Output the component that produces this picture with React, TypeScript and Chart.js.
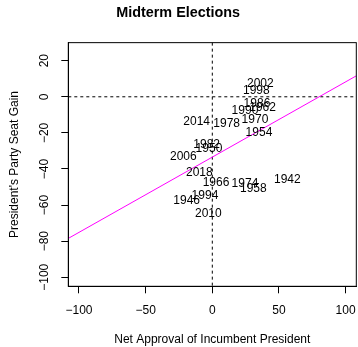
import { useEffect, useRef } from 'react';
import { Chart, registerables } from 'chart.js';

Chart.register(...registerables);

// Midterm election years with the president's net approval and the seat change of his party
const years = [
  '1942', '1946', '1950', '1954', '1958', '1962', '1966', '1970', '1974', '1978',
  '1982', '1986', '1990', '1994', '1998', '2002', '2006', '2010', '2014', '2018',
];
const netApproval = [
  56.3, -19.2, -2.5, 35, 30.8, 37.7, 2.8, 32, 24.5, 10.8,
  -4.2, 33.5, 24.5, -5.5, 33, 36, -21.7, -3, -11.7, -9.7,
];
const seatGain = [
  -45, -56.5, -28, -19, -50, -5, -47, -12, -47.5, -14,
  -25.5, -3, -7, -54, 4, 8, -32.5, -64, -13, -41,
];

const xTicks = [-100, -50, 0, 50, 100];
const yTicks = [-100, -80, -60, -40, -20, 0, 20];

// axis limits (data limits padded by 4%)
const X_MIN = -108;
const X_MAX = 108;
const Y_MIN = -105;
const Y_MAX = 30;

const FONT = 'Liberation Sans';
// text is centred a little below its anchor, as base R graphics does
const TEXT_DROP = 1.5;

function leastSquares(xs: number[], ys: number[]) {
  const n = xs.length;
  const mx = xs.reduce((a, b) => a + b, 0) / n;
  const my = ys.reduce((a, b) => a + b, 0) / n;
  let sxy = 0;
  let sxx = 0;
  for (let i = 0; i < n; i++) {
    sxy += (xs[i] - mx) * (ys[i] - my);
    sxx += (xs[i] - mx) * (xs[i] - mx);
  }
  const slope = sxy / sxx;
  return { slope, intercept: my - slope * mx };
}

const minusSign = (v: number | string) => String(v).replace('-', '\u2212');

// dashed reference lines at zero and the box around the plot region
const framePlugin = {
  id: 'frame',
  beforeDatasetsDraw(chart: any) {
    const { ctx, chartArea: a, scales } = chart;
    const y0 = scales.y.getPixelForValue(0);
    const x0 = scales.x.getPixelForValue(0);
    ctx.save();
    ctx.strokeStyle = '#000';
    ctx.lineWidth = 1;
    ctx.setLineDash([3, 3]);
    ctx.beginPath();
    ctx.moveTo(a.left, y0);
    ctx.lineTo(a.right, y0);
    ctx.moveTo(x0, a.top);
    ctx.lineTo(x0, a.bottom);
    ctx.stroke();
    ctx.restore();
  },
  afterDraw(chart: any) {
    const { ctx, chartArea: a } = chart;
    ctx.save();
    ctx.strokeStyle = '#000';
    ctx.lineWidth = 1;
    ctx.strokeRect(a.left, a.top, a.right - a.left, a.bottom - a.top);
    ctx.restore();
  },
};

// year labels written at each point's position
const yearLabels = {
  id: 'yearLabels',
  afterDatasetsDraw(chart: any) {
    const { ctx } = chart;
    const meta = chart.getDatasetMeta(0);
    ctx.save();
    ctx.fillStyle = '#000';
    ctx.font = `12px "${FONT}"`;
    ctx.textAlign = 'center';
    ctx.textBaseline = 'middle';
    meta.data.forEach((pt: any, i: number) => {
      ctx.fillText(years[i], pt.x, pt.y + TEXT_DROP);
    });
    ctx.restore();
  },
};

export default function App() {
  const canvasRef = useRef<HTMLCanvasElement | null>(null);

  useEffect(() => {
    const canvas = canvasRef.current;
    if (!canvas) return;
    const fit = leastSquares(netApproval, seatGain);
    const points = netApproval.map((x, i) => ({ x, y: seatGain[i] }));
    const fitLine = [X_MIN, X_MAX].map((x) => ({ x, y: fit.intercept + fit.slope * x }));

    const chart = new Chart(canvas, {
      type: 'scatter',
      data: {
        datasets: [
          {
            label: 'Midterms',
            data: points,
            pointRadius: 0,
            pointHoverRadius: 0,
            showLine: false,
          },
          {
            label: 'Fit',
            data: fitLine,
            showLine: true,
            pointRadius: 0,
            borderColor: '#FF00FF',
            borderWidth: 1,
            fill: false,
          },
        ],
      },
      options: {
        responsive: false,
        animation: false,
        devicePixelRatio: 1,
        events: [],
        layout: { padding: { left: 0, right: 1.7, top: 0, bottom: 0 } },
        plugins: {
          legend: { display: false },
          tooltip: { enabled: false },
          title: {
            display: true,
            text: 'Midterm Elections',
            color: '#000',
            font: { family: FONT, size: 14.4, weight: 'bold' },
            padding: { top: 4.7, bottom: 20.67 },
          },
        },
        scales: {
          x: {
            type: 'linear',
            min: X_MIN,
            max: X_MAX,
            afterBuildTicks: (scale: any) => {
              scale.ticks = xTicks.map((value) => ({ value }));
            },
            afterFit: (scale: any) => {
              scale.height = 60.7;
              scale.paddingLeft = 0;
              scale.paddingRight = 0;
            },
            grid: {
              drawOnChartArea: false,
              drawTicks: true,
              tickLength: 7,
              tickColor: '#000',
              tickWidth: 1,
            },
            border: { display: true, color: '#000', width: 1 },
            ticks: {
              color: '#000',
              font: { family: FONT, size: 12 },
              padding: 10,
              maxRotation: 0,
              autoSkip: false,
              callback: (v: any) => minusSign(v),
            },
            title: {
              display: true,
              text: 'Net Approval of Incumbent President',
              color: '#000',
              font: { family: FONT, size: 12 },
              padding: { top: 0, bottom: 0 },
            },
          },
          y: {
            type: 'linear',
            min: Y_MIN,
            max: Y_MAX,
            afterBuildTicks: (scale: any) => {
              scale.ticks = yTicks.map((value) => ({ value }));
            },
            afterFit: (scale: any) => {
              scale.width = 68.3;
              scale.paddingTop = 0;
              scale.paddingBottom = 0;
            },
            grid: {
              drawOnChartArea: false,
              drawTicks: true,
              tickLength: 7,
              tickColor: '#000',
              tickWidth: 1,
            },
            border: { display: true, color: '#000', width: 1 },
            ticks: {
              color: '#000',
              font: { family: FONT, size: 12 },
              padding: 3.5,
              minRotation: 90,
              maxRotation: 90,
              crossAlign: 'center',
              autoSkip: false,
              callback: (v: any) => minusSign(v),
            },
            title: {
              display: true,
              text: "President's Party Seat Gain",
              color: '#000',
              font: { family: FONT, size: 12 },
              padding: { top: 7.8, bottom: 0 },
            },
          },
        },
      },
      plugins: [framePlugin, yearLabels],
    } as any);

    return () => chart.destroy();
  }, []);

  return (
    <div style={{ position: 'absolute', left: 0, top: 0, width: 358, height: 347, background: '#fff' }}>
      <canvas ref={canvasRef} width={358} height={347} />
    </div>
  );
}
